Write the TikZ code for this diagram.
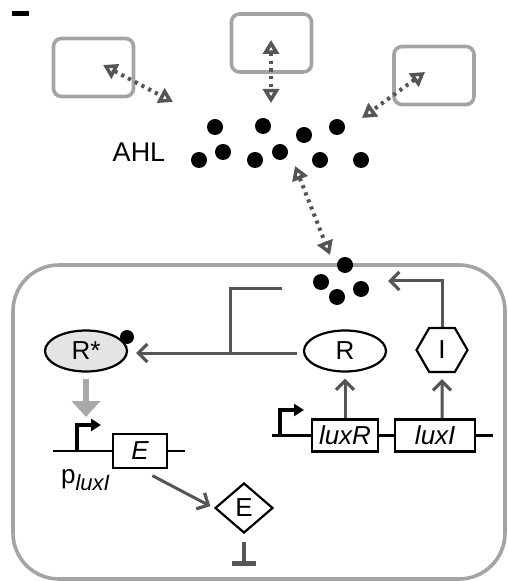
\documentclass[tikz,border=0pt]{standalone}
\usepackage{fontspec}
\setmainfont{Liberation Sans}
\usetikzlibrary{shapes.geometric, arrows.meta, positioning, calc}

\definecolor{cellgray}{HTML}{A4A4A4}
\definecolor{linegray}{HTML}{555555}
\definecolor{fillgray}{HTML}{E4E4E4}
\definecolor{pushgray}{HTML}{A9A9A9}

\begin{document}
\begin{tikzpicture}[
    x=0.5pt, y=-0.5pt,
    font=\fontsize{13}{15}\selectfont,
    cell/.style={rectangle, draw=cellgray, line width=1.8pt, rounded corners=4pt, minimum width=40pt, minimum height=29pt},
    ahl/.style={circle, fill=black, inner sep=0pt, minimum size=8pt},
    gene/.style={rectangle, draw, line width=1.1pt, inner sep=0pt, minimum height=16pt, font=\fontsize{13}{15}\selectfont\itshape},
    prot/.style={ellipse, draw, line width=1.1pt, inner sep=0pt, minimum width=41pt, minimum height=20.5pt},
    dna/.style={line width=1.1pt},
    prom/.style={line width=1.6pt, -{Triangle[length=5pt, width=6pt]}},
    exchange/.style={linegray, line width=2pt, dash pattern=on 1.6pt off 2.2pt,
        {Triangle[open, length=7pt, width=8pt, line width=2pt]}-{Triangle[open, length=7pt, width=8pt, line width=2pt]}},
    arrow/.style={linegray, line width=1.5pt, -{Straight Barb[length=4.5pt, width=9pt, line width=1.6pt]}},
    bind/.style={pushgray, line width=2.8pt, -{Triangle[length=8pt, width=14pt]}},
    repress/.style={linegray, line width=2.2pt, -{Bar[width=12pt, line width=2.8pt]}}
]
\useasboundingbox (0,0) rectangle (507,581);

% cropped panel mark
\fill (12,11) rectangle (29,16);

% neighbouring cells
\node (cellL) [cell] at (93.5,67.5) {};
\node (cellM) [cell] at (271.5,43) {};
\node (cellR) [cell] at (434,75.5) {};

% the cell in focus
\draw [cellgray, line width=1.8pt, rounded corners=23pt] (13,265) rectangle (505,579);

% AHL outside
\node (ahllabel) at (139,152) {\fontsize{13.5}{15}\selectfont AHL};
\foreach \i/\px/\py in {1/215/127, 2/263/126, 3/304/135, 4/337/127, 5/199/160,
                        6/223/152, 7/255/160, 8/280/152, 9/320/160, 10/361/160}
    \node (ahl\i) [ahl] at (\px,\py) {};

% AHL inside
\foreach \i/\px/\py in {1/345/265, 2/321/282, 3/361/289, 4/337/297}
    \node (inner\i) [ahl] at (\px,\py) {};

% diffusion
\coordinate (difL1) at (103,65);  \coordinate (difL2) at (173,102);
\coordinate (difM1) at (271,40);  \coordinate (difM2) at (271,103);
\coordinate (difR1) at (425,72);  \coordinate (difR2) at (362,118);
\coordinate (difC1) at (295,166); \coordinate (difC2) at (330,255);
\draw [exchange] (difL1) -- (difL2);
\draw [exchange] (difM1) -- (difM2);
\draw [exchange] (difR1) -- (difR2);
\draw [exchange] (difC1) -- (difC2);

% proteins
\node (Rstar) [prot, fill=fillgray] at (86,351) {R*};
\node (bound) [ahl, minimum size=7pt] at (127,337) {};
\node (R) [prot] at (345,351) {R};
\node (I) [regular polygon, regular polygon sides=6, draw, line width=1.1pt, inner sep=0pt, minimum size=25.5pt] at (442,350) {I};
\node (Eprot) [diamond, draw, line width=1.1pt, inner sep=0pt, minimum width=29pt, minimum height=25pt] at (244,508) {E};

% lux operon
\node (luxR) [gene, minimum width=33pt] at (345,435.5) {luxR};
\node (luxI) [gene, minimum width=40pt, right=7.5pt of luxR] {luxI};
\coordinate (dnaA) at (272,435.5);
\coordinate (dnaB) at (493,435.5);
\coordinate (promA) at (280,435.5);
\coordinate (promB) at (304,410);
\draw [dna] (dnaA) -- (luxR.west) (luxR.east) -- (luxI.west) (luxI.east) -- (dnaB);
\draw [prom] (promA) |- (promB);

% target gene
\node (Egene) [gene, minimum width=27pt, minimum height=17pt] at (140,451) {E};
\coordinate (dnaC) at (53,451);
\coordinate (dnaD) at (185,451);
\coordinate (promC) at (77,451);
\coordinate (promD) at (101,425);
\draw [dna] (dnaC) -- (Egene.west) (Egene.east) -- (dnaD);
\draw [prom] (promC) |- (promD);
\node (plux) at (86,480) {p\textsubscript{\fontsize{11}{13}\selectfont\itshape luxI}};

% regulation
\coordinate (fork) at (230,353);
\coordinate (sense) at (282,289);
\coordinate (synth) at (388,281);
\draw [arrow, shorten <=3pt, shorten >=4pt] (R.west |- fork) -- (Rstar.east |- fork);
\draw [linegray, line width=1.5pt] (fork) |- (sense);
\draw [arrow] (I.north) |- (synth);
\draw [arrow, shorten >=3pt] (luxR.north) -- (R.south);
\draw [arrow, shorten >=3pt] (luxI.north -| I) -- (I.south);
\draw [bind] ([yshift=-14pt]Rstar.center) -- ([yshift=-33pt]Rstar.center);
\draw [arrow, shorten <=7pt, shorten >=2pt] (Egene.south) -- (Eprot.west);
\draw [repress, shorten <=4pt] (Eprot.south) -- ++(0,32);

\end{tikzpicture}
\end{document}
